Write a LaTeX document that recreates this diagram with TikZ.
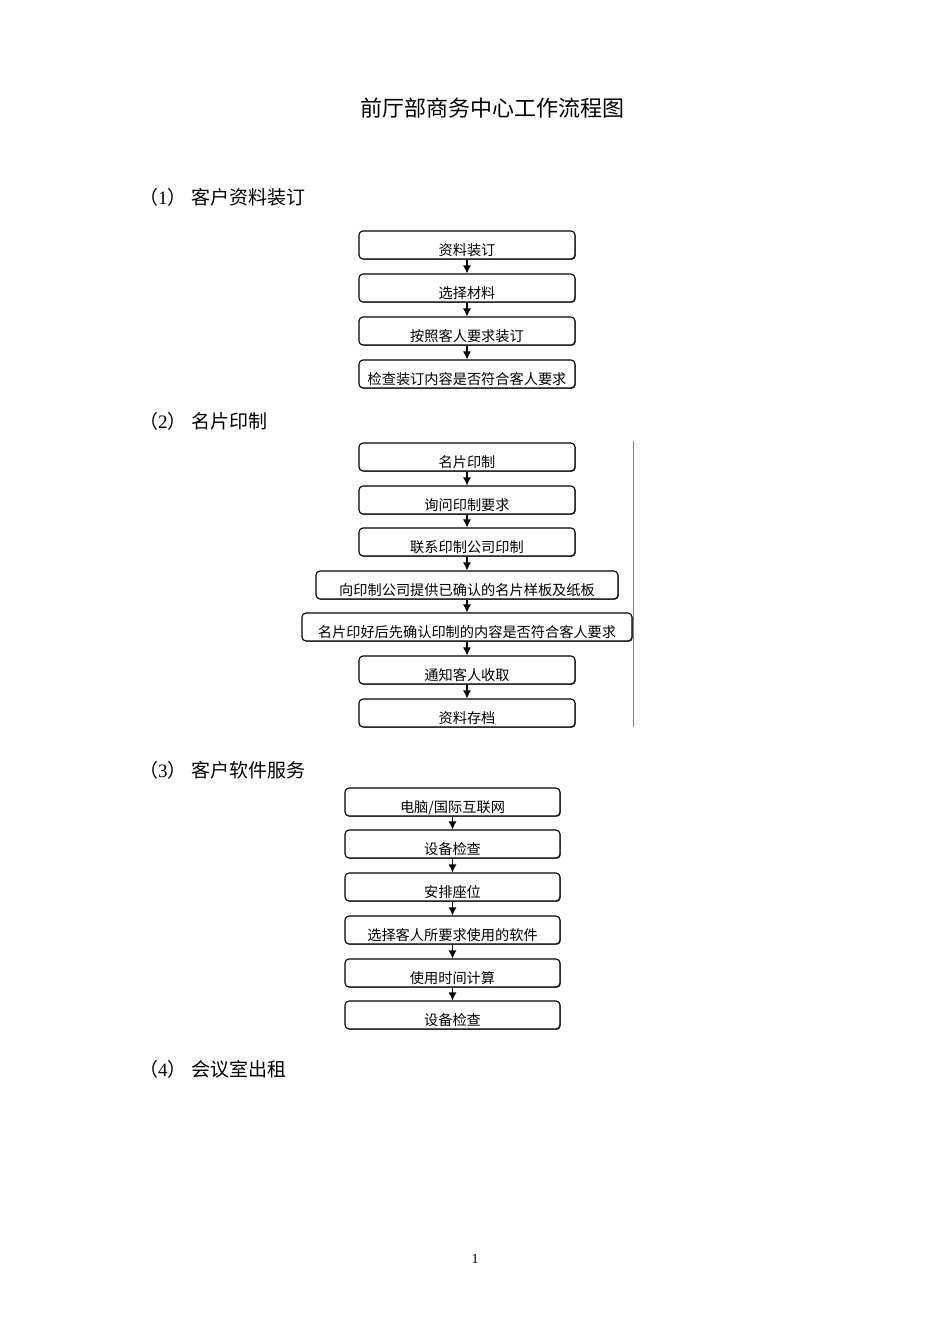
\documentclass[tikz,border=0pt]{standalone}
\usepackage{fontspec}
\setmainfont{Liberation Serif}
\newfontfamily\cjk{Noto Sans CJK SC}
\usetikzlibrary{arrows.meta,shadows}
\begin{document}
\begin{tikzpicture}[x=1pt,y=-1pt,
  box/.style={draw=black, line width=1.1pt, rounded corners=4pt, fill=white,
    minimum width=216pt, minimum height=28pt, inner xsep=2pt, inner ysep=0pt,
    text height=24pt, text depth=4pt,
    font=\cjk\fontsize{14.2}{16}\selectfont,
    drop shadow={shadow xshift=0.9pt, shadow yshift=-0.9pt, fill=black!55, opacity=1}},
  flow/.style={line width=1.1pt, -{Latex[length=8pt,width=8pt]}},
  heading/.style={anchor=west, inner sep=0pt, font=\fontsize{19}{22}\selectfont},
]
\useasboundingbox (0,0) rectangle (950,1344);
\fill[white] (0,0) rectangle (950,1344);

% title
\node[font=\cjk\fontsize{22}{26}\selectfont] (title) at (492,108) {前厅部商务中心工作流程图};

% headings
\node[heading] (h1) at (139,197) {{\cjk （}1{\cjk ）\kern5pt 客户资料装订}};
\node[heading] (h2) at (139,421) {{\cjk （}2{\cjk ）\kern5pt 名片印制}};
\node[heading] (h3) at (139,770) {{\cjk （}3{\cjk ）\kern5pt 客户软件服务}};
\node[heading] (h4) at (139,1069) {{\cjk （}4{\cjk ）\kern5pt 会议室出租}};

% section 1
\node[box] (a1) at (467,245) {资料装订};
\node[box] (a2) at (467,288) {选择材料};
\node[box] (a3) at (467,331) {按照客人要求装订};
\node[box] (a4) at (467,374) {检查装订内容是否符合客人要求};
\draw[flow] (a1.south) -- (a2.north);
\draw[flow] (a2.south) -- (a3.north);
\draw[flow] (a3.south) -- (a4.north);

% section 2
\node[box] (b1) at (467,457) {名片印制};
\node[box] (b2) at (467,500) {询问印制要求};
\node[box] (b3) at (467,542) {联系印制公司印制};
\node[box, minimum width=302pt] (b4) at (467,585) {向印制公司提供已确认的名片样板及纸板};
\node[box, minimum width=330pt] (b5) at (467,627) {名片印好后先确认印制的内容是否符合客人要求};
\node[box] (b6) at (467,670) {通知客人收取};
\node[box] (b7) at (467,713) {资料存档};
\draw[flow] (b1.south) -- (b2.north);
\draw[flow] (b2.south) -- (b3.north);
\draw[flow] (b3.south) -- (b4.north);
\draw[flow] (b4.south) -- (b5.north);
\draw[flow] (b5.south) -- (b6.north);
\draw[flow] (b6.south) -- (b7.north);
\coordinate (vtop) at (633,441);
\coordinate (vbot) at (633,727);
\draw[black!50, line width=0.7pt] (vtop) -- (vbot);

% section 3
\node[box, minimum width=215pt] (c1) at (452.5,802) {电脑/国际互联网};
\node[box, minimum width=215pt] (c2) at (452.5,844) {设备检查};
\node[box, minimum width=215pt] (c3) at (452.5,887) {安排座位};
\node[box, minimum width=215pt] (c4) at (452.5,930) {选择客人所要求使用的软件};
\node[box, minimum width=215pt] (c5) at (452.5,973) {使用时间计算};
\node[box, minimum width=215pt] (c6) at (452.5,1015) {设备检查};
\draw[flow] (c1.south) -- (c2.north);
\draw[flow] (c2.south) -- (c3.north);
\draw[flow] (c3.south) -- (c4.north);
\draw[flow] (c4.south) -- (c5.north);
\draw[flow] (c5.south) -- (c6.north);

% page number
\node[font=\fontsize{14}{16}\selectfont] (pg) at (475,1259) {1};
\end{tikzpicture}
\end{document}
